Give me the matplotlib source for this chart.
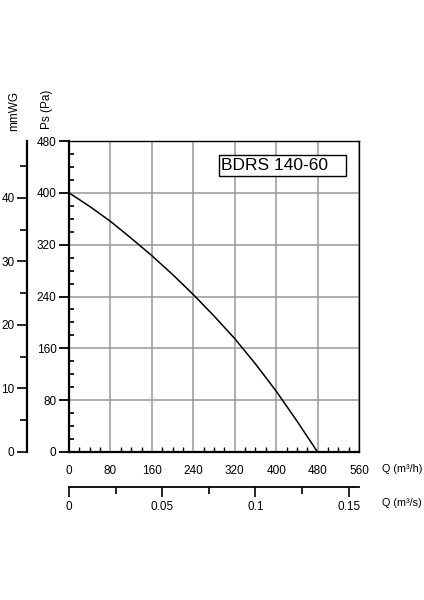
import matplotlib
matplotlib.use("Agg")
import matplotlib.pyplot as plt
from matplotlib.ticker import MultipleLocator

plt.rcParams['font.family'] = ['Liberation Sans', 'DejaVu Sans']

# fan curve
q_m3h = [0, 40, 80, 120, 160, 200, 240, 280, 320, 360, 400, 440, 480]
ps_pa = [400, 379, 356, 330, 303, 274, 243, 210, 175, 136, 94, 48, 0]

model = "BDRS 140-60"
pa_ticks = [0, 80, 160, 240, 320, 400, 480]
q_ticks = [0, 80, 160, 240, 320, 400, 480, 560]
qs_labels = ["0", "0.05", "0.1", "0.15"]
qs_ticks = [0, 0.05, 0.1, 0.15]

W, H = 424, 600
fig = plt.figure(figsize=(W / 100, H / 100), dpi=100)

left, right, top, bottom = 69, 359, 141, 452
ax = fig.add_axes([left / W, 1 - bottom / H, (right - left) / W, (bottom - top) / H])
ax.plot(q_m3h, ps_pa, color='black', lw=1.1)
ax.set_xlim(0, 560)
ax.set_ylim(0, 480)
ax.set_xticks(q_ticks)
ax.set_yticks(pa_ticks)
ax.xaxis.set_minor_locator(MultipleLocator(20))
ax.yaxis.set_minor_locator(MultipleLocator(20))
ax.grid(True, which='major', color='#999999', lw=1.1)
ax.set_axisbelow(True)
for s in ['left', 'bottom']:
    ax.spines[s].set_linewidth(1.6)
for s in ['top', 'right']:
    ax.spines[s].set_linewidth(1.0)
ax.tick_params(axis='y', which='major', direction='out', length=7, width=1.3, labelsize=8.5, pad=2)
ax.tick_params(axis='y', which='minor', direction='in', length=3.5, width=1.2)
ax.tick_params(axis='x', which='major', direction='in', length=0, labelsize=8.5, pad=9)
ax.tick_params(axis='x', which='minor', direction='in', length=3.5, width=1.0)

# model name box
ax.add_patch(plt.Rectangle((290, 426), 245, 32, fill=True, fc='white', ec='black', lw=1.0, zorder=5))
ax.text(294, 442, model, fontsize=12.5, va='center', ha='left', zorder=6)

# mmWG axis
ax2 = fig.add_axes([27 / W, 1 - bottom / H, 0.001, (bottom - top) / H])
ax2.set_ylim(0, 480 / 9.80665)
ax2.set_xticks([])
for s in ['top', 'right', 'bottom']:
    ax2.spines[s].set_visible(False)
ax2.spines['left'].set_linewidth(1.6)
ax2.yaxis.set_major_locator(MultipleLocator(10))
ax2.yaxis.set_minor_locator(MultipleLocator(5))
ax2.tick_params(axis='y', which='major', direction='out', length=7, width=1.2, labelsize=8.5, pad=2)
ax2.tick_params(axis='y', which='minor', direction='out', length=5, width=1.2)
ax2.patch.set_visible(False)

# m3/s axis
ax3 = fig.add_axes([left / W, 1 - 487 / H, (right - left) / W, 0.001])
ax3.set_xlim(0, 560 / 3600)
ax3.set_yticks([])
for s in ['top', 'right', 'left']:
    ax3.spines[s].set_visible(False)
ax3.spines['bottom'].set_linewidth(1.3)
ax3.set_xticks(qs_ticks)
ax3.set_xticklabels(qs_labels)
ax3.xaxis.set_minor_locator(MultipleLocator(0.025))
ax3.tick_params(axis='x', which='major', direction='out', length=7, width=1.2, labelsize=8.5, pad=3)
ax3.tick_params(axis='x', which='minor', direction='out', length=5, width=1.2)
ax3.patch.set_visible(False)

fig.text(14 / W, 1 - 111 / H, "mmWG", rotation=90, fontsize=8.5, ha='center', va='center')
fig.text(47 / W, 1 - 109 / H, "Ps (Pa)", rotation=90, fontsize=8.5, ha='center', va='center')
fig.text(382 / W, 1 - 469 / H, "Q (m³/h)", fontsize=7.8, ha='left', va='center')
fig.text(382 / W, 1 - 503 / H, "Q (m³/s)", fontsize=7.8, ha='left', va='center')

fig.savefig("out.png", dpi=100)
